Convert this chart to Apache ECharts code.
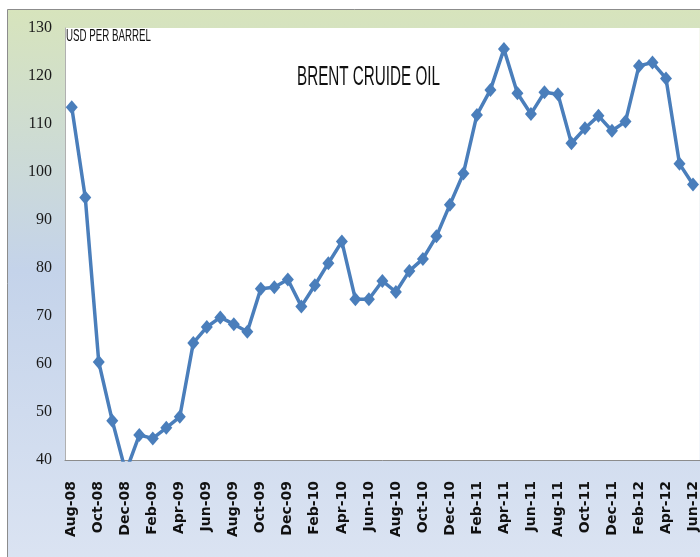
<!DOCTYPE html>
<html>
<head>
<meta charset="utf-8">
<title>Brent crude oil</title>
<script src="https://cdn.jsdelivr.net/npm/echarts@6/dist/echarts.min.js"></script>
<style>
  html, body { margin: 0; padding: 0; background: #fff; }
  #chart { width: 700px; height: 557px; }
</style>
</head>
<body>
<div id="chart"></div>
<script>
// monthly Brent price, Aug-08 .. Jun-12 (USD per barrel)
const months = [
  'Aug-08', 'Sep-08', 'Oct-08', 'Nov-08', 'Dec-08',
  'Jan-09', 'Feb-09', 'Mar-09', 'Apr-09', 'May-09', 'Jun-09', 'Jul-09', 'Aug-09', 'Sep-09', 'Oct-09', 'Nov-09', 'Dec-09',
  'Jan-10', 'Feb-10', 'Mar-10', 'Apr-10', 'May-10', 'Jun-10', 'Jul-10', 'Aug-10', 'Sep-10', 'Oct-10', 'Nov-10', 'Dec-10',
  'Jan-11', 'Feb-11', 'Mar-11', 'Apr-11', 'May-11', 'Jun-11', 'Jul-11', 'Aug-11', 'Sep-11', 'Oct-11', 'Nov-11', 'Dec-11',
  'Jan-12', 'Feb-12', 'Mar-12', 'Apr-12', 'May-12', 'Jun-12'
]
const prices = [
  113.5, 94.7, 60.4, 48.2, 37.5,
  45.2, 44.5, 46.7, 49.0, 64.4, 67.7, 69.7, 68.3, 66.7, 75.7, 76.0, 77.6,
  72.0, 76.4, 81.0, 85.5, 73.5, 73.5, 77.3, 75.0, 79.4, 81.9, 86.6, 93.2,
  99.7, 111.9, 117.1, 125.6, 116.4, 112.1, 116.6, 116.2, 106.0, 109.1, 111.7, 108.6,
  110.5, 122.1, 122.8, 119.5, 101.7, 97.4
]
const chartTitle = 'BRENT CRUIDE OIL'
const unitLabel = 'USD PER BARREL'

const lineColor = '#4a7ebb'

const chart = echarts.init(document.getElementById('chart'))
chart.setOption({
  animation: false,
  graphic: [
    {
      type: 'rect',
      z: -10,
      silent: true,
      shape: { x: 7.5, y: 9.5, width: 720, height: 580 },
      style: {
        fill: new echarts.graphic.LinearGradient(0, 0, 0, 1, [
          { offset: 0, color: '#d7e4bc' },
          { offset: 0.45, color: '#c4d3ea' },
          { offset: 1, color: '#dde5f3' }
        ]),
        stroke: '#8c8c8c',
        lineWidth: 1
      }
    },
    {
      type: 'text',
      x: 297,
      y: 78,
      scaleX: 0.564,
      z: 10,
      style: {
        text: chartTitle,
        font: '27px "Liberation Sans", Arial, sans-serif',
        fill: '#111',
        textVerticalAlign: 'middle'
      }
    },
    {
      type: 'text',
      x: 66,
      y: 36,
      scaleX: 0.59,
      z: 10,
      style: {
        text: unitLabel,
        font: '16.5px "Liberation Sans", Arial, sans-serif',
        fill: '#111',
        textVerticalAlign: 'middle'
      }
    }
  ],
  grid: {
    left: 65,
    top: 28,
    right: 0,
    bottom: 97,
    show: true,
    backgroundColor: '#fff',
    borderWidth: 0
  },
  xAxis: {
    type: 'category',
    data: months,
    boundaryGap: true,
    axisLine: { lineStyle: { color: '#8c8c8c', width: 1 } },
    axisTick: { show: false },
    axisLabel: {
      interval: 1,
      rotate: 90,
      margin: 21,
      color: '#111',
      fontFamily: '"DejaVu Sans", sans-serif',
      fontWeight: 'bold',
      fontSize: 14
    }
  },
  yAxis: {
    type: 'value',
    min: 40,
    max: 130,
    interval: 10,
    axisLine: { show: true, lineStyle: { color: '#b0b0b0', width: 1 } },
    axisTick: { show: false },
    splitLine: { show: false },
    axisLabel: {
      margin: 13,
      color: '#1a1a1a',
      fontFamily: '"Liberation Serif", "Times New Roman", serif',
      fontSize: 16
    }
  },
  series: [
    {
      type: 'line',
      data: prices,
      clip: true,
      showAllSymbol: true,
      symbol: 'diamond',
      symbolSize: [12, 14],
      lineStyle: { color: lineColor, width: 3.5 },
      itemStyle: { color: lineColor }
    }
  ]
})
</script>
</body>
</html>
